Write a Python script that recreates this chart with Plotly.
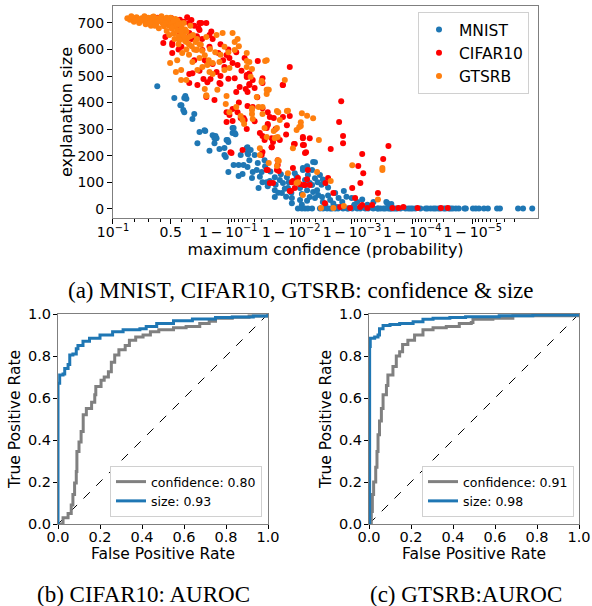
import math
import plotly.graph_objects as go

# ---------------- Panel (a): x = logit(max confidence), y = explanation size -------------
mnist_x = [-0.51, 0.14, 0.52, 0.56, 0.6, 0.37, 0.41, 0.48, 0.9, 0.83, 0.52, 1.1, 1.29, 1.32, 1.02,
           1.6, 1.67, 1.71, 1.75, 1.67, 1.48, 1.86, 2.05, 2.13, 2.17, 2.2, 2.36, 2.4, 2.36, 2.44,
           2.47, 2.05, 2.1, 2.2, 2.4, 2.59, 2.78, 2.59, 2.74, 2.67, 2.9, 2.93, 2.93, 2.95, 3.0,
           2.93, 3.13, 3.1, 3.28, 3.47, 3.35, 3.5, 3.66, 3.78, 3.97, 4.16, 4.28, 3.97, 3.97, 4.24,
           4.47, 4.62, 4.62, 4.93, 4.73, 5.04, 5.23, 5.12, 5.3, 5.43, 5.3, 5.5, 5.62, 5.58, 5.77,
           5.8, 5.9, 6.34, 6.54, 6.6, 6.27, 6.08, 6.96, 7.11, 7.53, 7.73, 8.26, 3.58, 3.32, 3.2,
           3.05, 4.81, 4.93, 5.2, 5.39, 4.43, 5.04, 5.39, 5.69, 5.5, 5.6, 5.75, 4.6, 4.4, 5.0,
           5.2, 5.0, 6.0, 6.2, 6.4, 7.0, 7.3, 8.22, 8.41, 3.8, 4.0, 4.5, 3.4, 3.6, 4.2,
           4.8, 5.2, 5.5, 5.8, 6.0, 6.7, 7.5, 5.43, 4.1, 4.35, 3.7, 6.9, 7.6,
           4.85, 5.0, 5.12, 5.23, 5.39, 5.69, 5.81, 5.96, 6.08, 6.15, 6.27, 6.38, 6.57, 6.73, 6.77,
           6.92, 7.11, 7.23, 7.42, 7.53, 7.72, 7.88, 7.91, 8.0, 8.11, 8.18, 8.3, 8.37, 8.41, 8.49,
           8.57, 8.64, 8.76, 8.95, 9.06, 9.14, 9.22, 9.33, 9.52, 9.72, 9.79, 9.91, 10.02, 10.1, 10.21,
           10.29, 10.41, 10.48, 10.6, 10.67, 10.75, 10.87, 10.98, 11.2, 11.25, 11.52, 11.63, 11.75, 11.94, 12.09,
           12.44, 12.55, 13.24, 13.43, 13.78]
mnist_y = [462, 417, 417, 425, 414, 390, 390, 372, 357, 338, 364, 289, 296, 293, 247,
           277, 266, 274, 266, 247, 218, 225, 229, 259, 259, 251, 304, 304, 285, 285,
           281, 202, 195, 138, 165, 165, 165, 123, 131, 202, 229, 210, 232, 205, 183,
           157, 138, 116, 146, 138, 78, 100, 100, 104, 119, 108, 97, 70, 44, 59,
           78, 40, 21, 33, 134, 146, 127, 108, 97, 63, 44, 40, 52, 70, 44,
           25, 14, 6, 25, 67, 59, 33, 6, 25, 6, 25, 21, 183, 172, 202,
           221, 97, 78, 70, 89, 119, 153, 146, 127, 115, 100, 90, 60, 45, 55,
           30, 15, 50, 20, 40, 15, 35, 25, 18, 140, 90, 100, 120, 160, 130,
           120, 160, 175, 110, 80, 45, 15, 176, 60, 75, 85, 40, 10,
           1, 1, 1, 1, 1, 1, 1, 1, 1, 1, 1, 1, 1, 1, 1,
           1, 1, 1, 1, 1, 1, 1, 1, 1, 1, 1, 1, 1, 1, 1,
           1, 1, 1, 1, 1, 1, 1, 1, 1, 1, 1, 1, 1, 1, 1,
           1, 1, 1, 1, 1, 1, 1, 1, 1, 1, 1, 1, 1, 1, 1,
           1, 1, 1, 1, 1]

cifar_x = [0.63, 1.36, 1.06, 0.71, 0.33, -0.2, -0.28, 0.06, 0.06, 0.41, 1.21, 1.48, 1.82, 2.13, 2.36,
           2.82, 3.32, 4.54, 2.05, 1.75, 1.25, 1.4, 0.83, 0.71, 1.36, 1.67, 2.63, 2.86, 3.2, 3.5,
           3.5, 2.9, 2.44, 3.13, 4.28, 2.13, 2.24, 2.36, 2.7, 2.82, 2.93, 3.13, 3.5, 3.7, 3.93,
           4.28, 4.54, 3.7, 3.66, 3.4, 3.5, 3.58, 3.9, 4.16, 3.85, 3.5, 3.47, 4.73, 4.66, 3.66,
           4.05, 2.74, 2.32, 3.78, 4.54, 4.85, 6.5, 6.42, 6.57, 6.57, 6.1, 8.3, 7.3, 7.15, 7.34,
           7.23, 8.1, 7.9, 6.92, 4.43, 5.04, 5.3, 5.04, 5.12, 4.7, 4.66, 4.93, 5.12, 5.3, 5.2,
           6.0, 5.9, 5.88, 6.46, 6.84, 7.22, 7.5, 8.45, 8.68, 8.87, 9.41, 10.3, 10.56, 6.2, 2.13,
           2.55, 2.67, 2.78, 2.28, 3.78, 3.7, 3.85, 3.85, 4.08, 4.08, 4.12, 3.7, 3.9, 4.85, 5.08,
           5.23, 4.58, 5.04, 5.08, 5.16, 7.03, 7.3, 7.68, 4.62, 4.73, 4.27, -0.1, 0.2, 0.5, 0.9,
           0.4, 1.0, 0.8, 1.6, 1.9, 2.2, 2.5, 1.3, 1.6, 2.0, 2.7, 3.0, 2.2, 1.9, 2.5,
           3.3, 3.0, 1.2, 0.3, 0.9, 1.1, 1.9, 2.6, 3.2, 4.0, 4.4, 2.9, 0.0, -0.5, 0.35,
           0.7, 1.1, 1.55, 0.02, 0.14, 0.44, 0.79, 1.17, 1.1, 1.48, 0.06, 0.71, 1.02, 1.52, 1.86,
           1.4, 2.24, 2.55, 2.9, 3.0, 2.93, 2.36]
cifar_y = [722, 700, 681, 662, 666, 647, 625, 625, 587, 610, 598, 610, 587, 579, 549,
           568, 557, 534, 534, 515, 489, 477, 511, 508, 421, 410, 459, 451, 455, 492,
           474, 504, 492, 485, 466, 364, 353, 331, 342, 334, 387, 383, 379, 364, 342,
           346, 349, 319, 304, 285, 274, 259, 251, 259, 232, 214, 202, 244, 153, 146,
           146, 221, 210, 97, 67, 100, 405, 327, 274, 247, 225, 236, 206, 161, 134,
           97, 187, 59, 78, 315, 266, 266, 240, 210, 244, 104, 92, 89, 89, 111,
           116, 97, 21, 6, 3, 6, 3, 3, 3, 6, 3, 3, 3, 59, 327,
           364, 342, 342, 213, 346, 315, 266, 232, 183, 165, 142, 146, 97, 116, 89,
           146, 67, 270, 240, 213, 40, 14, 14, 100, 78, 466, 700, 690, 705, 690,
           680, 650, 640, 640, 620, 600, 590, 560, 545, 560, 520, 510, 490, 470, 440,
           420, 470, 640, 600, 560, 520, 500, 400, 330, 300, 280, 300, 715, 720, 712,
           700, 700, 668, 719, 692, 704, 711, 700, 674, 655, 617, 474, 466, 489, 474,
           549, 568, 542, 496, 466, 440, 376]

gtsrb_x = [-1.65, -1.55, -1.45, -1.4, -1.3, -1.25, -1.2, -1.1, -1.05, -1.0, -0.95, -0.9, -0.85, -0.8, -0.75,
           -0.7, -0.65, -0.6, -0.55, -0.5, -0.45, -0.4, -0.35, -0.3, -0.25, -0.2, -0.15, -0.1, -0.05, 0.0,
           0.05, 0.1, 0.12, 0.18, 0.2, 0.25, 0.3, 0.35, 0.38, 0.42, 0.45, 0.5, 0.55, 0.6, 0.65,
           0.7, 0.75, 0.8, 0.85, 0.9, -0.3, -0.6, -0.9, -1.15, 0.0, 0.25, -0.2, 0.15, 0.3, -0.05,
           0.5, 0.6, 0.7, 1.0, 1.1, 1.2, 1.3, 1.45, 1.7, 2.05, 2.55, 0.6, 0.2, 0.4, 1.3,
           1.36, 2.1, 0.33, 1.0, 3.6, 3.47, 3.66, 4.05, 4.43, 4.16, 4.05, 4.0, 4.8, 3.1, 3.1,
           3.5, 3.5, 2.9, 3.0, 3.66, 3.1, 3.05, 3.47, 3.66, 3.74, 3.35, 5.0, 3.13, 4.1, 4.96,
           3.93, 4.08, 4.66, 5.65, 3.4, 3.4, 3.74, 4.12, 5.58, 6.92, 8.07, 8.07, 6.1, 5.04, 6.6,
           5.73, 6.2, 4.85, 4.35, 5.43, 4.47, 4.8, 7.9, 2.24, 2.74, 4.08, 4.05, 4.9, 4.47, 3.66,
           3.97, 3.58, 2.67, 2.8, 2.5, 3.1, 3.7, 3.28, 2.13, 1.78, 1.6, 1.36, 2.9, 2.9, 2.24,
           2.44, 1.98, 2.36, 2.44, 1.75, 1.36, 0.98, 0.25, 0.44, 0.4, 0.83, 1.1, 1.21, 1.4, 1.6,
           1.86, 2.05, 1.48, 1.02, 0.6, -0.02, 4.96, 5.2, -1.5, -1.35, -0.95, -0.7, -0.4, -0.15, 0.1,
           0.3, 0.55, -0.8, -0.5, -0.25, 0.05, 0.4, 0.75, 0.95, 1.15, 1.5, 1.9, 2.2, 2.6]
gtsrb_y = [718, 712, 720, 705, 722, 715, 700, 718, 708, 725, 695, 712, 720, 702, 690,
           715, 724, 705, 695, 718, 680, 708, 725, 698, 688, 715, 670, 705, 690, 720,
           678, 700, 660, 715, 688, 672, 650, 700, 640, 682, 662, 700, 632, 668, 645,
           620, 690, 612, 655, 600, 710, 690, 700, 712, 695, 710, 700, 640, 620, 655,
           650, 600, 580, 640, 620, 595, 578, 560, 590, 610, 640, 628, 515, 485, 451,
           428, 395, 635, 600, 557, 477, 448, 368, 368, 334, 304, 267, 297, 379, 357,
           383, 357, 587, 553, 560, 527, 497, 481, 432, 448, 383, 360, 338, 364, 312,
           293, 270, 228, 259, 228, 202, 172, 180, 138, 164, 153, 146, 104, 52, 10,
           3, 3, 100, 485, 341, 134, 97, 35, 364, 334, 183, 161, 308, 369, 270,
           266, 304, 349, 319, 383, 372, 448, 421, 425, 448, 508, 425, 557, 534, 530,
           598, 662, 662, 628, 655, 647, 598, 560, 587, 523, 553, 568, 534, 542, 549,
           553, 523, 515, 523, 485, 549, 326, 350, 725, 710, 718, 722, 712, 720, 708,
           695, 675, 698, 705, 692, 682, 668, 650, 628, 618, 602, 580, 590, 612]

# ---------------- Panels (b), (c): ROC curves -------------
cifar_conf_fpr = [0, 0.024, 0.048, 0.063, 0.071, 0.079, 0.087, 0.09, 0.1, 0.11, 0.12, 0.135, 0.16, 0.175, 0.18,
                  0.205, 0.22, 0.24, 0.254, 0.27, 0.29, 0.32, 0.34, 0.37, 0.405, 0.44, 0.48, 0.55, 0.61, 0.675,
                  0.72, 0.75, 0.83, 0.91, 1.0]
cifar_conf_tpr = [0, 0.03, 0.05, 0.09, 0.14, 0.195, 0.25, 0.345, 0.39, 0.44, 0.52, 0.55, 0.58, 0.615, 0.655,
                  0.685, 0.70, 0.725, 0.77, 0.805, 0.83, 0.85, 0.875, 0.89, 0.90, 0.915, 0.925, 0.935, 0.94, 0.955,
                  0.965, 0.98, 0.985, 0.99, 1.0]
cifar_size_fpr = [0, 0, 0.008, 0.024, 0.032, 0.048, 0.056, 0.071, 0.087, 0.095, 0.119, 0.15, 0.2, 0.26, 0.31,
                  0.39, 0.42, 0.47, 0.55, 0.64, 0.75, 0.83, 0.93, 1.0]
cifar_size_tpr = [0, 0.67, 0.71, 0.714, 0.74, 0.76, 0.805, 0.81, 0.835, 0.85, 0.87, 0.885, 0.9, 0.915, 0.925,
                  0.93, 0.94, 0.955, 0.968, 0.976, 0.983, 0.986, 0.99, 1.0]

gtsrb_conf_fpr = [0, 0.011, 0.016, 0.022, 0.032, 0.038, 0.043, 0.05, 0.059, 0.067, 0.083, 0.09, 0.114, 0.13, 0.146,
                  0.16, 0.185, 0.217, 0.257, 0.305, 0.368, 0.43, 0.487, 0.495, 0.59, 0.685, 1.0]
gtsrb_conf_tpr = [0, 0.06, 0.14, 0.2, 0.27, 0.345, 0.425, 0.49, 0.55, 0.615, 0.66, 0.71, 0.75, 0.8, 0.82,
                  0.855, 0.875, 0.9, 0.925, 0.935, 0.94, 0.955, 0.96, 0.975, 0.98, 0.992, 1.0]
gtsrb_size_fpr = [0, 0.003, 0.006, 0.027, 0.043, 0.05, 0.067, 0.1, 0.146, 0.21, 0.257, 0.305, 0.385, 0.46, 0.62,
                  0.78, 1.0]
gtsrb_size_tpr = [0, 0.845, 0.885, 0.89, 0.9, 0.93, 0.945, 0.95, 0.955, 0.963, 0.975, 0.98, 0.983, 0.987, 0.992,
                  0.995, 1.0]

diag = [0, 1]
roc_labels = {"cifar": ["confidence: 0.80", "size: 0.93"], "gtsrb": ["confidence: 0.91", "size: 0.98"]}

# Axis tick definitions for the logit-scaled confidence axis
major_probs = [0.1, 0.5, 0.9, 0.99, 0.999, 0.9999, 0.99999]
major_text = ["10<sup>−1</sup>", "0.5", "1\u2009−\u200910<sup>−1</sup>", "1\u2009−\u200910<sup>−2</sup>",
              "1\u2009−\u200910<sup>−3</sup>", "1\u2009−\u200910<sup>−4</sup>", "1\u2009−\u200910<sup>−5</sup>"]
minor_probs = [0.2, 0.3, 0.4, 0.6, 0.7, 0.8]
for k in range(1, 6):
    base = 1 - 10 ** (-k)
    step = 10 ** (-k - 1)
    minor_probs += [base + j * step for j in range(1, 9)]


def logit(p):
    return math.log(p / (1 - p))


major_vals = [logit(p) for p in major_probs]
minor_vals = [logit(p) for p in minor_probs if logit(p) < 14.0]

BLUE = "#1f77b4"
RED = "#ff0000"
ORANGE = "#ff7f0e"
GREY = "#808080"
FONT = "DejaVu Sans"
SPINE = "#7f7f7f"

fig = go.Figure()
for name, xs, ys, col in [("MNIST", mnist_x, mnist_y, BLUE),
                          ("CIFAR10", cifar_x, cifar_y, RED),
                          ("GTSRB", gtsrb_x, gtsrb_y, ORANGE)]:
    fig.add_trace(go.Scatter(x=xs, y=ys, mode="markers", name=name,
                             marker=dict(color=col, size=6, line=dict(width=0)),
                             xaxis="x", yaxis="y", legend="legend"))

for (xa, ya, lg, cf, ct, sf, st, key) in [
        ("x2", "y2", "legend2", cifar_conf_fpr, cifar_conf_tpr, cifar_size_fpr, cifar_size_tpr, "cifar"),
        ("x3", "y3", "legend3", gtsrb_conf_fpr, gtsrb_conf_tpr, gtsrb_size_fpr, gtsrb_size_tpr, "gtsrb")]:
    fig.add_trace(go.Scatter(x=diag, y=diag, mode="lines", showlegend=False,
                             line=dict(color="black", width=1, dash="dash"), xaxis=xa, yaxis=ya))
    fig.add_trace(go.Scatter(x=cf, y=ct, mode="lines", name=roc_labels[key][0], line_shape="hv",
                             line=dict(color=GREY, width=3), xaxis=xa, yaxis=ya, legend=lg))
    fig.add_trace(go.Scatter(x=sf, y=st, mode="lines", name=roc_labels[key][1], line_shape="hv",
                             line=dict(color=BLUE, width=3), xaxis=xa, yaxis=ya, legend=lg))

W, H = 592, 606


def px_x(a, b):
    return [a / W, b / W]


def px_y(top, bottom):
    return [1 - bottom / H, 1 - top / H]


axis_common = dict(showline=True, linecolor=SPINE, linewidth=1, mirror=True, ticks="outside",
                   tickcolor="black", tickwidth=1, showgrid=False, zeroline=False,
                   automargin=False, tickangle=0)
roc_ticks = [0, 0.2, 0.4, 0.6, 0.8, 1.0]

fig.update_layout(
    width=W, height=H, margin=dict(l=0, r=0, t=0, b=0, pad=0, autoexpand=False),
    paper_bgcolor="white", plot_bgcolor="white",
    font=dict(family=FONT, color="black"),
    xaxis=dict(domain=px_x(113, 538), range=[-2.197, 14.0], tickmode="array",
               tickvals=major_vals, ticktext=major_text, tickfont=dict(size=14), ticklen=5,
               ticklabelstandoff=-4,
               minor=dict(tickvals=minor_vals, ticks="outside", ticklen=2.5, tickcolor="black"),
               title=dict(text="maximum confidence (probability)", font=dict(size=16), standoff=0),
               anchor="y", **axis_common),
    yaxis=dict(domain=px_y(6, 218), range=[-35, 764], tickvals=[0, 100, 200, 300, 400, 500, 600, 700],
               tickfont=dict(size=14), ticklen=5,
               title=dict(text="explanation size", font=dict(size=16), standoff=0),
               anchor="x", **axis_common),
    xaxis2=dict(domain=px_x(58, 268), range=[0, 1], tickvals=roc_ticks, tickformat=".1f", ticklen=4,
                ticklabelstandoff=-4,
                tickfont=dict(size=14.5), title=dict(text="False Positive Rate", font=dict(size=15.5), standoff=1),
                anchor="y2", **axis_common),
    yaxis2=dict(domain=px_y(314, 524), range=[0, 1], tickvals=roc_ticks, tickformat=".1f", ticklen=4,
                ticklabelstandoff=-1,
                tickfont=dict(size=14.5), title=dict(text="True Positive Rate", font=dict(size=15.5), standoff=3),
                anchor="x2", **axis_common),
    xaxis3=dict(domain=px_x(369, 579), range=[0, 1], tickvals=roc_ticks, tickformat=".1f", ticklen=4,
                ticklabelstandoff=-4,
                tickfont=dict(size=14.5), title=dict(text="False Positive Rate", font=dict(size=15.5), standoff=1),
                anchor="y3", **axis_common),
    yaxis3=dict(domain=px_y(314, 524), range=[0, 1], tickvals=roc_ticks, tickformat=".1f", ticklen=4,
                ticklabelstandoff=-1,
                tickfont=dict(size=14.5), title=dict(text="True Positive Rate", font=dict(size=15.5), standoff=3),
                anchor="x3", **axis_common),
    legend=dict(x=529 / W, y=1 - 12 / H, xanchor="right", yanchor="top", bgcolor="white",
                bordercolor="#d0d0d0", borderwidth=1, font=dict(size=15.5), itemsizing="trace"),
    legend2=dict(x=262 / W, y=1 - 517 / H, xanchor="right", yanchor="bottom", bgcolor="white",
                 bordercolor="#d0d0d0", borderwidth=1, font=dict(size=12.5)),
    legend3=dict(x=574 / W, y=1 - 517 / H, xanchor="right", yanchor="bottom", bgcolor="white",
                 bordercolor="#d0d0d0", borderwidth=1, font=dict(size=12.5)),
)

captions = [("(a) MNIST, CIFAR10, GTSRB: confidence &amp; size", 300, 290),
            ("(b) CIFAR10: AUROC", 143, 594),
            ("(c) GTSRB:AUROC", 466, 594)]
for text, cx, cy in captions:
    fig.add_annotation(text=text, x=cx / W, y=1 - cy / H, xref="paper", yref="paper",
                       xanchor="center", yanchor="middle", showarrow=False,
                       font=dict(family="Liberation Serif", size=23, color="black"))

fig.write_html("out.html", config={"displayModeBar": False},
               post_script="document.body.style.margin='0';document.body.style.overflow='hidden';")
